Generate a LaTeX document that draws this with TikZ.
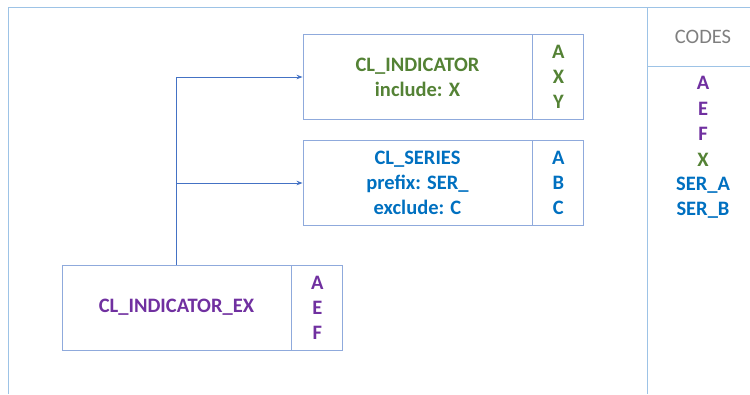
\documentclass[tikz,border=0pt]{standalone}
\usepackage{fontspec}
\setmainfont{Carlito}
\usetikzlibrary{arrows.meta}
\definecolor{frame}{HTML}{9DC3E6}
\definecolor{boxline}{HTML}{8FAADC}
\definecolor{conn}{HTML}{4472C4}
\definecolor{cgreen}{HTML}{548235}
\definecolor{cblue}{HTML}{0070C0}
\definecolor{cpurple}{HTML}{7030A0}
\definecolor{cgray}{HTML}{7F7F7F}
\tikzset{
  mainbox/.style={draw=boxline, line width=0.9pt, minimum width=229pt, minimum height=85pt, inner sep=0pt, align=center, font=\fontsize{20.5}{25}\selectfont\bfseries},
  colbox/.style={draw=boxline, line width=0.9pt, minimum width=51pt, minimum height=85pt, inner sep=0pt, align=center, font=\fontsize{20.5}{25}\selectfont\bfseries},
  conline/.style={draw=conn, line width=0.8pt},
  arr/.style={-{Stealth[length=6pt,width=4.5pt]}},
  codetxt/.style={font=\fontsize{20.5}{25}\selectfont\bfseries, inner sep=0pt}
}
\begin{document}
\begin{tikzpicture}[x=1pt,y=-1pt]
\useasboundingbox (0,0) rectangle (750,394);
% frame
\draw[frame, line width=0.9pt] (8,394) -- (8,7) -- (750,7);
\draw[frame, line width=0.9pt] (647,7) -- (647,394);
\draw[frame, line width=0.9pt] (647,66) -- (750,66);
\node[font=\fontsize{20.5}{22}\selectfont, text=cgray] (codes) at (703,37) {CODES};
% boxes
\node[mainbox, text=cgreen] (ind) at (417.5,77) {CL\_INDICATOR\\include: X};
\node[colbox, text=cgreen, anchor=west] (indc) at (ind.east) {A\\X\\Y};
\node[mainbox, text=cblue] (ser) at (417.5,183) {CL\_SERIES\\prefix: SER\_\\exclude: C};
\node[colbox, text=cblue, anchor=west] (serc) at (ser.east) {A\\B\\C};
\node[mainbox, text=cpurple] (ex) at (176.5,307.5) {CL\_INDICATOR\_EX};
\node[colbox, text=cpurple, anchor=west] (exc) at (ex.east) {A\\E\\F};
% connectors
\coordinate (branch) at (ex.north |- ser.west);
\draw[conline, arr] (ex.north) |- (ind.west);
\draw[conline, arr] (branch) -- (ser.west);
% codes list
\node[codetxt, text=cpurple] (c1) at (703,83) {A};
\node[codetxt, text=cpurple] (c2) at (703,108.5) {E};
\node[codetxt, text=cpurple] (c3) at (703,134) {F};
\node[codetxt, text=cgreen] (c4) at (703,159.5) {X};
\node[codetxt, text=cblue] (c5) at (703,185) {SER\_A};
\node[codetxt, text=cblue] (c6) at (703,210.5) {SER\_B};
\end{tikzpicture}
\end{document}
